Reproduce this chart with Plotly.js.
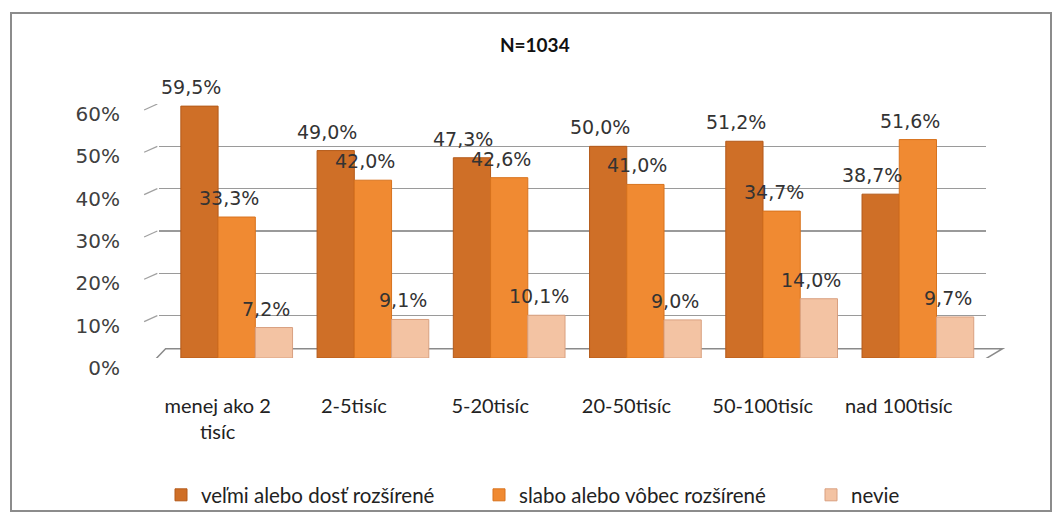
<!DOCTYPE html>
<html><head><meta charset="utf-8">
<script src="https://cdn.plot.ly/plotly-3.0.1.min.js"></script>
<style>
html,body{margin:0;padding:0;background:#fff;}
#frame{position:absolute;left:10px;top:12px;width:1038px;height:496px;border:2px solid #8c8c8c;}
#chart{position:absolute;left:0;top:0;width:1059px;height:522px;}
</style></head>
<body>
<div id="frame"></div>
<div id="chart"></div>
<script>
const categories = ["menej ako 2<br>tisíc", "2-5tisíc", "5-20tisíc", "20-50tisíc", "50-100tisíc", "nad 100tisíc"];
const seriesNames = ["veľmi alebo dosť rozšírené", "slabo alebo vôbec rozšírené", "nevie"];
const velmi = [59.5, 49.0, 47.3, 50.0, 51.2, 38.7];
const slabo = [33.3, 42.0, 42.6, 41.0, 34.7, 51.6];
const nevie = [7.2, 9.1, 10.1, 9.0, 14.0, 9.7];
const yTicks = [0, 10, 20, 30, 40, 50, 60];
const titleText = "N=1034";

const seriesValues = [velmi, slabo, nevie];
const colors = ["#CF6F27", "#F08A32", "#F3C3A3"];
const lineColors = ["#B45A1A", "#D8731E", "#D9A080"];
const legendIds = ["legend", "legend2", "legend3"];
const legendX = [181, 499, 831];

const traces = seriesValues.map((vals, i) => ({
  type: "bar",
  name: seriesNames[i],
  x: categories,
  y: vals,
  legend: legendIds[i],
  showlegend: true,
  marker: {color: colors[i], line: {color: lineColors[i], width: 1}},
  hoverinfo: "skip"
}));

const barPx = 37.7;
const annotations = [];
seriesValues.forEach((vals, i) => {
  vals.forEach((v, j) => {
    annotations.push({
      x: categories[j], y: v, xref: "x", yref: "y",
      text: v.toFixed(1).replace(".", ",") + "%",
      showarrow: false,
      xshift: (i - 1) * barPx - 8,
      yshift: 19,
      yanchor: "middle",
      font: {family: "DejaVu Sans", size: 19, color: "#333333"}
    });
  });
});

const shapes = [
  {type: "path", xref: "paper", yref: "y", layer: "below",
   path: "M -0.012,-1.9 L 0.985,-1.9 L 1.02,2.2 L 0.008,2.2 Z",
   line: {color: "#8a8a8a", width: 1.5}, fillcolor: "rgba(0,0,0,0)"}
];
yTicks.slice(1).forEach(t => {
  shapes.push({type: "line", xref: "paper", yref: "y", layer: "below",
    x0: -0.018, x1: -0.002, y0: t - 1.4, y1: t,
    line: {color: "#a0a0a0", width: 1.2}});
});

const layout = {
  width: 1059, height: 522,
  showlegend: true,
  margin: {l: 159, r: 73, t: 104, b: 164},
  paper_bgcolor: "rgba(0,0,0,0)",
  plot_bgcolor: "rgba(0,0,0,0)",
  separators: ", ",
  barmode: "group",
  bargap: 0.18,
  bargroupgap: 0,
  title: {
    text: "<b>" + titleText + "</b>",
    x: 0.505, xref: "container", xanchor: "center",
    y: 1 - 45 / 522, yref: "container", yanchor: "middle",
    font: {family: "Lato", size: 19, color: "#111111"}
  },
  xaxis: {
    type: "category", automargin: false,
    showgrid: false, zeroline: false, showline: false,
    ticks: "",
    ticklabelshift: -19,
    ticklabelstandoff: 34,
    tickfont: {family: "Lato", size: 20, color: "#222222"}
  },
  yaxis: {
    range: [0, 60], automargin: false,
    tickvals: yTicks,
    ticktext: yTicks.map(t => t + "%"),
    showgrid: true, gridcolor: "#9a9a9a", gridwidth: 1.5,
    zeroline: false, showline: false, ticks: "",
    ticklabelstandoff: 38,
    ticklabelshift: 10,
    tickfont: {family: "DejaVu Sans", size: 20, color: "#404040"}
  },
  annotations: annotations,
  shapes: shapes
};

legendIds.forEach((id, i) => {
  layout[id] = {
    visible: true,
    orientation: "h",
    xref: "container", yref: "container",
    x: (legendX[i] - 20) / 1059, xanchor: "left",
    y: 1 - 495 / 522, yanchor: "middle",
    font: {family: "Lato", size: 20.5, color: "#222222"},
    itemwidth: 30,
    bgcolor: "rgba(0,0,0,0)"
  };
});

Plotly.newPlot("chart", traces, layout, {displayModeBar: false, staticPlot: true});
</script>
</body></html>
